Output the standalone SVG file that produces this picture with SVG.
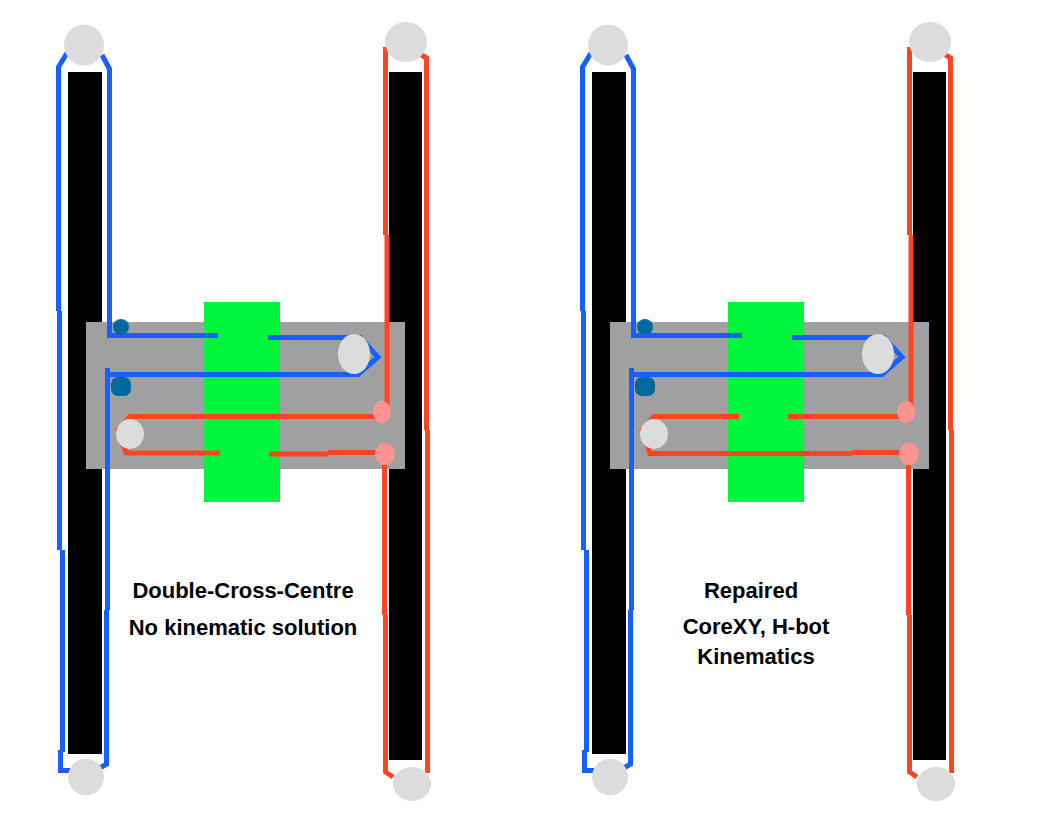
<svg xmlns="http://www.w3.org/2000/svg" width="1048" height="817" viewBox="0 0 1048 817">
  <style>
    .rail { fill: #000000; }
    .carriage { fill: #a0a0a0; }
    .block { fill: #00f53c; }
    .pulley { fill: #dcdcdc; }
    .anchor { fill: #0068a0; }
    .idler { fill: #ff9490; }
    .belt { fill: none; stroke-width: 5; stroke-linejoin: miter; stroke-linecap: butt; }
    .blue { stroke: #1560ff; }
    .red { stroke: #ff4422; }
    .label { font-family: "Liberation Sans", Arial, sans-serif; font-weight: 700; font-size: 22px; fill: #000000; text-anchor: middle; }
  </style>
  <rect width="1048" height="817" fill="#ffffff"/>

  <!-- Left frame: crossed belts -->
  <g id="frame-a">
    <rect id="a-rail-left" class="rail" x="68" y="72" width="34" height="682"/>
    <rect id="a-rail-right" class="rail" x="389" y="72" width="33" height="688"/>
    <rect id="a-carriage" class="carriage" x="86" y="322" width="319" height="147"/>
    <rect id="a-block" class="block" x="204" y="302" width="76" height="200"/>
  </g>
  <g id="a-connectors">
    <path class="belt blue" d="M67 53 L58.500 67 V311"/>
    <path class="belt blue" d="M59.500 311 V550 M62.500 550 V752 M60.500 750 V770.500 H70"/>
    <path class="belt blue" d="M102 55 L109.500 69 V335.500 H218"/>
    <path class="belt blue" d="M268 337.500 H360 L378 357 L358 374.500 H107.500 M107.500 368 V610 M106.500 610 V764 L100 768"/>
    <path class="belt red" d="M385.500 47 V235 M387 235 V412"/>
    <path class="belt red" d="M420 54 L426.500 58 V430 M427.500 430 V773"/>
    <path class="belt red" d="M382 416.500 H130 L118 430 L126 453 H220"/>
    <path class="belt red" d="M269 454 H328 M328 452.500 H385"/>
    <path class="belt red" d="M384.500 465 V615 M385.500 615 V772 L393 777"/>
  </g>
  <g id="a-pulleys">
    <ellipse id="a-pulley-top-left" class="pulley" cx="84" cy="45" rx="20" ry="20.500"/>
    <ellipse id="a-pulley-top-right" class="pulley" cx="406" cy="42" rx="21" ry="20"/>
    <ellipse id="a-pulley-bottom-left" class="pulley" cx="86" cy="777" rx="18" ry="18.500"/>
    <ellipse id="a-pulley-bottom-right" class="pulley" cx="412" cy="784" rx="19" ry="17"/>
    <ellipse id="a-pulley-carriage-right" class="pulley" cx="354" cy="354" rx="16" ry="20"/>
    <ellipse id="a-pulley-carriage-left" class="pulley" cx="130" cy="434" rx="14" ry="15"/>
    <ellipse id="a-anchor-upper" class="anchor" cx="121" cy="327" rx="8" ry="8"/>
    <rect id="a-anchor-lower" class="anchor" x="111" y="377" width="20" height="19" rx="7"/>
    <ellipse id="a-idler-upper" class="idler" cx="382" cy="412" rx="9" ry="11"/>
    <ellipse id="a-idler-lower" class="idler" cx="385" cy="454" rx="10" ry="11"/>
  </g>
  <g id="a-caption">
    <text class="label" x="243" y="598">Double-Cross-Centre</text>
    <text class="label" x="243" y="635">No kinematic solution</text>
  </g>

  <!-- Right frame: repaired belt routing, same layout shifted along x -->
  <g transform="translate(524 0)">
    <g id="frame-b">
      <rect id="b-rail-left" class="rail" x="68" y="72" width="34" height="682"/>
      <rect id="b-rail-right" class="rail" x="389" y="72" width="33" height="688"/>
      <rect id="b-carriage" class="carriage" x="86" y="322" width="319" height="147"/>
      <rect id="b-block" class="block" x="204" y="302" width="76" height="200"/>
    </g>
    <g id="b-connectors">
      <path class="belt blue" d="M67 53 L58.500 67 V311"/>
      <path class="belt blue" d="M59.500 311 V550 M62.500 550 V752 M60.500 750 V770.500 H70"/>
      <path class="belt blue" d="M102 55 L109.500 69 V335.500 H218"/>
      <path class="belt blue" d="M268 337.500 H360 L378 357 L358 374.500 H107.500 M107.500 368 V610 M106.500 610 V764 L100 768"/>
      <path class="belt red" d="M385.500 47 V235 M387 235 V412"/>
      <path class="belt red" d="M420 54 L426.500 58 V430 M427.500 430 V773"/>
      <path class="belt red" d="M382 416.500 H130 L118 430 L126 453.500 H328 M328 452.500 H385"/>
      <path class="belt red" d="M384.500 465 V615 M385.500 615 V772 L393 777"/>
      <rect class="block" x="215" y="410" width="49" height="12"/>
    </g>
    <g id="b-pulleys">
      <ellipse id="b-pulley-top-left" class="pulley" cx="84" cy="45" rx="20" ry="20.500"/>
      <ellipse id="b-pulley-top-right" class="pulley" cx="406" cy="42" rx="21" ry="20"/>
      <ellipse id="b-pulley-bottom-left" class="pulley" cx="86" cy="777" rx="18" ry="18.500"/>
      <ellipse id="b-pulley-bottom-right" class="pulley" cx="412" cy="784" rx="19" ry="17"/>
      <ellipse id="b-pulley-carriage-right" class="pulley" cx="354" cy="354" rx="16" ry="20"/>
      <ellipse id="b-pulley-carriage-left" class="pulley" cx="130" cy="434" rx="14" ry="15"/>
      <ellipse id="b-anchor-upper" class="anchor" cx="121" cy="327" rx="8" ry="8"/>
      <rect id="b-anchor-lower" class="anchor" x="111" y="377" width="20" height="19" rx="7"/>
      <ellipse id="b-idler-upper" class="idler" cx="382" cy="412" rx="9" ry="11"/>
      <ellipse id="b-idler-lower" class="idler" cx="385" cy="454" rx="10" ry="11"/>
    </g>
  </g>
  <g id="b-caption">
    <text class="label" x="751" y="598">Repaired</text>
    <text class="label" x="756" y="634">CoreXY, H-bot</text>
    <text class="label" x="756" y="664">Kinematics</text>
  </g>
</svg>
